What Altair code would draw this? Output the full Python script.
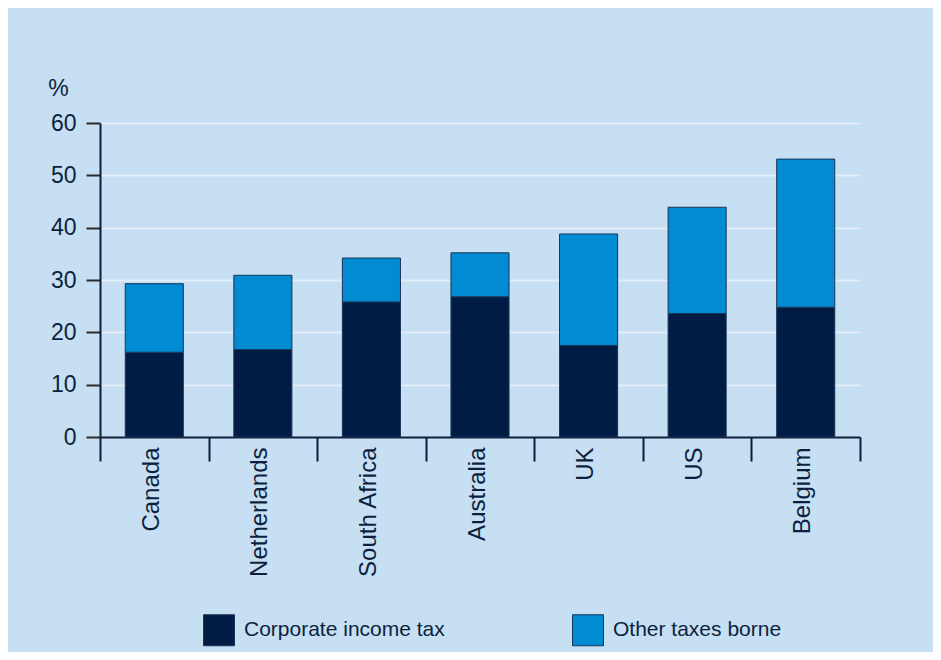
import altair as alt
import pandas as pd

countries = ["Canada", "Netherlands", "South Africa", "Australia", "UK", "US", "Belgium"]
corporate_income_tax = [16.2, 16.7, 25.8, 26.8, 17.5, 23.6, 24.8]
other_taxes_borne = [13.1, 14.2, 8.4, 8.4, 21.3, 20.3, 28.3]
series_names = ["Corporate income tax", "Other taxes borne"]
series_colors = ["#001b44", "#008bd2"]
y_ticks = [0, 10, 20, 30, 40, 50, 60]

rows = []
for i, c in enumerate(countries):
    rows.append({"country": c, "series": series_names[0], "value": corporate_income_tax[i], "order": 0})
    rows.append({"country": c, "series": series_names[1], "value": other_taxes_borne[i], "order": 1})
df = pd.DataFrame(rows)

FONT = "Liberation Sans"
TEXT = "#0d1f3f"
BG = "#c6dff2"

bars = alt.Chart(df).mark_bar(
    width=alt.RelativeBandSize(0.535),
    stroke="#1b3559",
    strokeWidth=1,
).encode(
    x=alt.X("country:N", sort=countries, title=None,
            scale=alt.Scale(paddingInner=0, paddingOuter=0),
            axis=alt.Axis(labelAngle=-90, tickBand="extent", tickSize=24, tickWidth=2,
                          tickColor="#0b1d3f", domainColor="#0b1d3f", domainWidth=2,
                          labelPadding=-14, labelFontSize=24, labelFont=FONT,
                          labelColor=TEXT, labelOffset=-3, grid=False)),
    y=alt.Y("value:Q", stack="zero", title="%",
            scale=alt.Scale(domain=[0, 60], nice=False),
            axis=alt.Axis(values=y_ticks, tickSize=14, tickWidth=2, tickColor="#2b2b2b",
                          domainColor="#0b1d3f", domainWidth=2, labelPadding=10,
                          labelFontSize=23, labelFont=FONT, labelColor=TEXT,
                          grid=True, gridColor="#e2eef9", gridWidth=2,
                          titleAngle=0, titleX=-42, titleY=-35, titleAlign="center",
                          titleBaseline="middle", titleFontSize=23, titleFont=FONT,
                          titleFontWeight="normal", titleColor=TEXT)),
    color=alt.Color("series:N", scale=alt.Scale(domain=series_names, range=series_colors),
                    legend=alt.Legend(orient="none", legendX=103, legendY=491,
                                      direction="horizontal", columns=2, title=None,
                                      symbolType="square", symbolSize=961,
                                      symbolStrokeColor="#1b3559", symbolStrokeWidth=1,
                                      labelFontSize=21, labelFont=FONT, labelColor=TEXT,
                                      labelOffset=9, columnPadding=125, labelLimit=400)),
    order=alt.Order("order:Q", sort="ascending"),
)

chart = bars.properties(
    width=760, height=314,
    background=BG,
    padding={"left": 92, "top": 115, "right": 73, "bottom": 215},
    autosize=alt.AutoSizeParams(type="none"),
).configure_view(stroke=None, fill=BG)

chart.save("out.html", embed_options={"renderer": "svg", "actions": False})
